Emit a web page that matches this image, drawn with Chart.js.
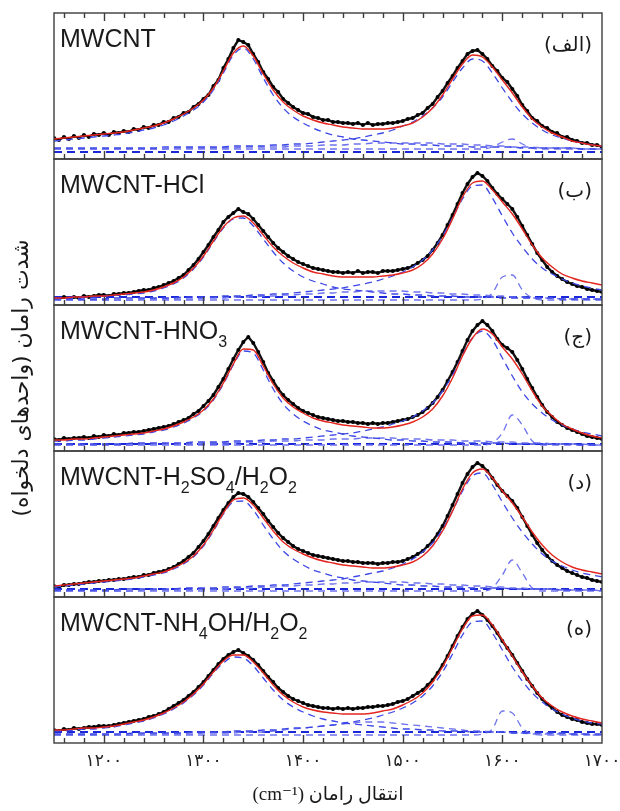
<!DOCTYPE html>
<html>
<head>
<meta charset="utf-8">
<script src="https://cdn.jsdelivr.net/npm/chart.js@4/dist/chart.umd.min.js"></script>
<style>
  body { margin: 0; background: #fff; }
  #raman { display: block; }
</style>
</head>
<body>
<canvas id="raman" width="620" height="811"></canvas>
<script>
// Raman shift grid (cm-1) for fitted curves / components
const shifts = [
  1150,1160,1170,1180,1190,1200,1210,1220,1230,1240,
  1250,1260,1270,1280,1290,1300,1310,1320,1330,1340,
  1350,1360,1370,1380,1390,1400,1410,1420,1430,1440,
  1450,1460,1470,1480,1490,1500,1510,1520,1530,1540,
  1550,1560,1570,1580,1590,1600,1610,1620,1630,1640,
  1650,1660,1670,1680,1690,1700
];
// grid for the measured points
const dotShifts = [
  1150,1155,1160,1165,1170,1175,1180,1185,1190,1195,
  1200,1205,1210,1215,1220,1225,1230,1235,1240,1245,
  1250,1255,1260,1265,1270,1275,1280,1285,1290,1295,
  1300,1305,1310,1315,1320,1325,1330,1335,1340,1345,
  1350,1355,1360,1365,1370,1375,1380,1385,1390,1395,
  1400,1405,1410,1415,1420,1425,1430,1435,1440,1445,
  1450,1455,1460,1465,1470,1475,1480,1485,1490,1495,
  1500,1505,1510,1515,1520,1525,1530,1535,1540,1545,
  1550,1555,1560,1565,1570,1575,1580,1585,1590,1595,
  1600,1605,1610,1615,1620,1625,1630,1635,1640,1645,
  1650,1655,1660,1665,1670,1675,1680,1685,1690,1695,
  1700
];
const baseShifts = [1150, 1700];
const xTicks = [1200, 1300, 1400, 1500, 1600, 1700];

const panelNames = ['MWCNT', 'MWCNT-HCl', 'MWCNT-HNO_3', 'MWCNT-H_2SO_4/H_2O_2', 'MWCNT-NH_4OH/H_2O_2'];
const panelTags = ['(الف)', '(ب)', '(ج)', '(د)', '(ه)'];
const yTitle = 'شدت رامان (واحدهای دلخواه)';
const xTitle = 'انتقال رامان (cm⁻¹)';

// ---- (الف) MWCNT ----
const mwcntDots = [
  21,19,22,20,23,21,24,22,25,24,
  26,24,27,26,28,27,30,29,32,31,
  34,34,37,37,41,42,46,47,52,55,
  60,64,73,79,91,100,111,119,117,114,
  105,97,87,80,72,67,60,56,52,49,
  46,45,42,41,39,39,37,37,36,36,
  35,36,34,36,34,35,35,36,36,37,
  38,40,41,44,46,51,55,62,68,76,
  83,91,98,105,108,109,105,100,93,88,
  81,77,70,63,54,48,41,38,33,31,
  27,26,22,22,19,18,16,16,14,14,
  12
];
const mwcntFit = [
  20,21,22,23,24,25,26,27,29,31,
  33,36,40,45,51,59,71,88,106,113,
  103,85,69,57,49,43,39,36,34,32,
  31,30,30,30,31,33,36,42,51,64,
  80,95,104,102,92,79,66,52,40,32,
  26,22,18,16,14,13
];
const mwcntD = [
  18,19,20,21,22,23,24,25,27,29,
  31,34,38,43,49,57,69,86,104,111,
  100,81,64,51,42,36,31,27,24,22,
  20,19,18,17,16,15,15,14,14,13,
  13,13,12,12,12,12,12,11,11,11,
  11,11,11,10,10,10
];
const mwcntG = [
  11,11,11,11,11,11,11,11,11,11,
  11,12,12,12,12,12,12,12,13,13,
  13,13,14,14,15,15,16,17,18,19,
  20,22,24,26,29,33,37,43,51,62,
  77,91,100,98,86,71,57,45,36,29,
  24,21,18,16,14,13
];
const mwcntD2 = [
  10,10,10,10,10,10,10,10,10,10,
  10,10,10,10,10,10,10,10,10,10,
  10,10,10,10,10,10,10,10,10,10,
  10,10,10,10,10,10,10,10,10,10,
  10,10,10,10,12,17,20,15,11,10,
  10,10,10,10,10,10
];
const mwcntD3 = [
  10,10,10,10,10,10,10,10,10,10,
  10,10,11,11,11,11,11,11,11,12,
  12,12,12,12,13,13,13,14,14,14,
  15,15,16,16,16,16,16,16,16,15,
  15,15,14,14,13,13,12,12,12,11,
  11,11,11,10,10,10
];
const mwcntBase = [7, 7];

// ---- (ب) MWCNT-HCl ----
const hclDots = [
  7,6,8,7,8,7,9,8,9,10,
  10,9,11,11,12,12,13,14,15,15,
  17,18,20,22,24,27,30,35,40,46,
  53,60,68,75,83,88,92,96,93,91,
  86,80,74,68,62,57,53,49,46,43,
  41,39,37,36,35,34,33,33,32,33,
  32,34,32,33,33,32,34,34,34,35,
  36,37,39,42,45,49,55,62,70,80,
  90,101,112,121,128,132,129,124,117,111,
  106,101,96,88,79,70,61,52,45,38,
  33,29,26,23,21,19,18,16,15,14,
  13
];
const hclFit = [
  7,7,8,8,9,9,10,11,12,13,
  15,18,22,28,37,49,64,78,87,89,
  82,70,58,49,42,37,33,31,29,28,
  28,28,28,29,30,32,35,41,51,66,
  86,108,122,124,115,103,91,76,60,47,
  38,31,27,24,22,20
];
const hclD = [
  7,7,7,8,8,9,10,10,11,12,
  14,17,21,27,36,48,63,77,86,87,
  79,66,53,42,34,28,24,21,18,16,
  15,14,13,12,11,11,10,10,9,9,
  9,8,8,8,8,7,7,7,7,7,
  7,6,6,6,6,6
];
const hclG = [
  6,6,6,6,6,6,7,7,7,7,
  7,7,7,8,8,8,8,9,9,9,
  10,10,11,11,12,13,14,15,16,17,
  19,21,23,26,29,33,38,45,55,69,
  87,106,119,120,107,89,72,58,46,37,
  31,26,22,19,17,15
];
const hclD2 = [
  5,5,5,5,5,5,5,5,5,5,
  5,5,5,5,5,5,5,5,5,5,
  5,5,5,5,5,5,5,5,5,5,
  5,5,5,5,5,5,5,5,5,5,
  5,5,5,6,12,28,30,15,7,5,
  5,5,5,5,5,5
];
const hclD3 = [
  5,5,5,5,5,5,5,5,5,6,
  6,6,6,6,6,7,7,7,8,8,
  8,9,9,10,10,11,11,12,12,13,
  13,14,14,14,14,14,13,13,12,12,
  11,11,10,10,9,9,8,8,7,7,
  7,6,6,6,6,5
];
const hclBase = [8, 8];

// ---- (ج) MWCNT-HNO3 ----
const hno3Dots = [
  12,11,13,12,13,13,14,13,15,14,
  16,15,17,16,18,18,19,19,20,21,
  22,23,24,25,27,29,31,33,37,40,
  45,50,56,64,72,82,92,101,109,114,
  108,99,89,78,70,62,56,51,47,43,
  40,38,36,34,33,32,31,30,30,29,
  29,28,28,27,28,27,28,28,29,30,
  31,32,34,36,39,43,48,54,61,70,
  79,89,100,111,120,126,130,126,120,112,
  106,103,99,91,82,72,63,54,46,39,
  34,29,26,23,21,19,17,15,14,13,
  12
];
const hno3Fit = [
  11,11,12,12,13,14,15,16,17,18,
  20,22,25,29,34,41,52,68,87,102,
  101,85,67,53,44,38,33,30,28,26,
  25,24,23,23,24,26,29,34,42,55,
  73,95,113,122,117,104,92,77,60,45,
  35,27,22,18,15,13
];
const hno3D = [
  10,10,11,11,12,13,14,15,16,17,
  19,21,24,28,33,40,51,67,86,100,
  98,81,62,47,37,30,25,21,19,17,
  15,14,13,12,11,11,10,10,9,9,
  9,8,8,8,8,8,7,7,7,7,
  7,7,7,6,6,6
];
const hno3G = [
  7,7,7,7,7,7,7,7,8,8,
  8,8,8,8,9,9,9,9,10,10,
  10,11,11,12,12,13,14,15,16,17,
  18,20,22,24,27,30,34,40,48,60,
  76,96,113,120,111,93,75,59,47,38,
  31,26,22,19,17,15
];
const hno3D2 = [
  6,6,6,6,6,6,6,6,6,6,
  6,6,6,6,6,6,6,6,6,6,
  6,6,6,6,6,6,6,6,6,6,
  6,6,6,6,6,6,6,6,6,6,
  6,6,6,6,8,18,36,26,10,6,
  6,6,6,6,6,6
];
const hno3D3 = [
  6,6,6,6,6,6,6,6,6,7,
  7,7,7,7,7,8,8,8,8,9,
  9,9,10,10,10,11,11,11,12,12,
  12,13,13,13,13,12,12,12,11,11,
  11,10,10,10,9,9,9,8,8,8,
  7,7,7,7,6,6
];
const hno3Base = [7, 7];

// ---- (د) MWCNT-H2SO4/H2O2 ----
const h2so4Dots = [
  11,10,12,12,13,13,14,15,15,16,
  16,17,17,18,18,19,20,20,22,22,
  24,25,26,28,30,33,36,40,44,50,
  56,63,71,79,87,94,100,104,103,100,
  95,89,83,76,70,64,59,55,51,48,
  46,44,42,41,40,39,38,37,36,36,
  35,35,34,34,34,33,34,34,35,35,
  36,38,40,43,46,51,56,63,71,81,
  92,103,114,123,130,134,131,126,119,112,
  106,101,96,89,80,71,62,54,47,41,
  36,32,29,26,24,22,20,19,17,16,
  15
];
const h2so4Fit = [
  11,12,13,14,15,16,17,18,19,21,
  23,25,29,34,41,52,67,84,97,99,
  92,79,66,55,48,43,39,36,34,32,
  31,30,29,29,30,32,35,41,51,66,
  86,108,124,128,119,106,94,80,65,52,
  42,35,30,27,25,23
];
const h2so4D = [
  10,11,12,13,14,15,16,17,18,20,
  22,24,28,33,40,51,66,83,95,96,
  87,72,58,46,38,32,27,24,21,19,
  17,16,15,14,13,12,12,11,11,10,
  10,10,9,9,9,9,8,8,8,8,
  8,7,7,7,7,7
];
const h2so4G = [
  7,7,7,7,7,7,7,8,8,8,
  8,8,8,9,9,9,9,10,10,10,
  11,11,12,12,13,14,15,16,17,18,
  20,22,24,26,29,33,38,45,54,68,
  86,106,121,124,112,95,79,65,53,43,
  36,31,27,24,22,20
];
const h2so4D2 = [
  6,6,6,6,6,6,6,6,6,6,
  6,6,6,6,6,6,6,6,6,6,
  6,6,6,6,6,6,6,6,6,6,
  6,6,6,6,6,6,6,6,6,6,
  6,6,6,6,9,22,37,24,9,6,
  6,6,6,6,6,6
];
const h2so4D3 = [
  6,6,6,6,6,6,6,6,6,7,
  7,7,7,7,7,8,8,8,9,9,
  9,10,10,11,11,12,12,13,13,14,
  14,15,15,15,15,15,14,14,13,13,
  12,12,11,11,10,10,9,9,8,8,
  8,7,7,7,7,6
];
const h2so4Base = [8, 8];

// ---- (ه) MWCNT-NH4OH/H2O2 ----
const nh4ohDots = [
  13,12,14,13,15,14,15,16,16,17,
  17,17,18,19,20,21,22,23,24,26,
  27,29,31,34,37,40,43,47,51,56,
  61,67,73,79,84,88,91,93,90,87,
  83,78,72,66,61,55,51,47,44,42,
  40,38,37,36,35,35,34,35,34,35,
  34,35,35,36,36,37,37,38,39,41,
  42,44,47,50,53,58,63,70,78,87,
  97,107,116,124,129,132,128,123,117,110,
  102,95,88,80,72,64,57,50,44,39,
  35,31,28,26,24,23,21,20,19,19,
  18
];
const nh4ohFit = [
  13,13,14,15,15,16,17,19,21,23,
  26,30,35,41,49,59,71,82,88,88,
  81,70,58,48,41,36,33,31,30,29,
  29,29,30,32,34,38,43,50,61,76,
  95,114,127,128,118,103,87,71,57,45,
  37,31,27,24,22,20
];
const nh4ohD = [
  12,12,13,14,14,15,16,18,20,22,
  25,29,34,40,48,58,70,80,86,85,
  77,65,53,43,36,31,27,24,22,20,
  19,18,17,16,15,14,14,13,13,12,
  12,12,11,11,11,11,10,10,10,10,
  10,10,9,9,9,9
];
const nh4ohG = [
  9,9,9,9,9,9,9,9,10,10,
  10,10,10,10,11,11,11,11,12,12,
  12,13,13,14,15,15,16,17,18,20,
  21,23,25,28,31,35,40,47,57,71,
  89,108,121,122,110,93,76,62,50,41,
  34,29,25,22,20,19
];
const nh4ohD2 = [
  8,8,8,8,8,8,8,8,8,8,
  8,8,8,8,8,8,8,8,8,8,
  8,8,8,8,8,8,8,8,8,8,
  8,8,8,8,8,8,8,8,8,8,
  8,8,8,9,14,32,30,15,9,8,
  8,8,8,8,8,8
];
const nh4ohD3 = [
  8,8,8,8,8,8,8,8,8,9,
  9,9,9,9,9,10,10,10,10,11,
  11,11,12,13,14,15,16,17,18,19,
  20,21,21,21,20,19,18,17,16,15,
  14,13,12,12,11,11,10,10,9,9,
  9,9,9,9,8,8
];
const nh4ohBase = [11, 11];

const panels = [
  { id: 'p1', dots: mwcntDots, fit: mwcntFit, comps: [mwcntD, mwcntG], small: [mwcntD2, mwcntD3], base: mwcntBase },
  { id: 'p2', dots: hclDots, fit: hclFit, comps: [hclD, hclG], small: [hclD2, hclD3], base: hclBase },
  { id: 'p3', dots: hno3Dots, fit: hno3Fit, comps: [hno3D, hno3G], small: [hno3D2, hno3D3], base: hno3Base },
  { id: 'p4', dots: h2so4Dots, fit: h2so4Fit, comps: [h2so4D, h2so4G], small: [h2so4D2, h2so4D3], base: h2so4Base },
  { id: 'p5', dots: nh4ohDots, fit: nh4ohFit, comps: [nh4ohD, nh4ohG], small: [nh4ohD2, nh4ohD3], base: nh4ohBase }
];

const pts = (xs, ys) => xs.map((x, i) => ({ x: x, y: ys[i] }));
const faDigits = '۰۱۲۳۴۵۶۷۸۹';
const toFa = n => String(n).replace(/\d/g, d => faDigits[d]);

const datasets = [];
panels.forEach(p => {
  datasets.push({
    data: pts(dotShifts, p.dots), yAxisID: p.id, order: 3,
    borderColor: '#111', borderWidth: 2.4, pointRadius: 2,
    pointBackgroundColor: '#000', pointBorderWidth: 0
  });
  p.comps.forEach(c => datasets.push({
    data: pts(shifts, c), yAxisID: p.id, order: 2,
    borderColor: '#3d47e6', borderWidth: 1.3, borderDash: [7, 5],
    pointRadius: 0, cubicInterpolationMode: 'monotone'
  }));
  p.small.forEach(c => datasets.push({
    data: pts(shifts, c), yAxisID: p.id, order: 2,
    borderColor: '#6f74ee', borderWidth: 1.3, borderDash: [7, 5],
    pointRadius: 0, cubicInterpolationMode: 'monotone'
  }));
  datasets.push({
    data: pts(baseShifts, p.base), yAxisID: p.id, order: 2,
    borderColor: '#1a28d8', borderWidth: 1.8, borderDash: [8, 5], pointRadius: 0
  });
  datasets.push({
    data: pts(shifts, p.fit), yAxisID: p.id, order: 1,
    borderColor: '#e3261f', borderWidth: 1.4, pointRadius: 0,
    cubicInterpolationMode: 'monotone'
  });
});

const panelScale = () => ({
  type: 'linear', position: 'left', stack: 'panels', stackWeight: 1,
  min: 0, max: 146,
  ticks: { display: false }, grid: { display: false }, border: { display: false },
  afterFit(s) { s.width = 0; }
});

// draw the frames, inward ticks and the texts
const decor = {
  id: 'decor',
  afterDatasetsDraw(chart) {
    const ctx = chart.ctx;
    const x = chart.scales.x;
    ctx.save();
    ctx.strokeStyle = '#3c3c3c';
    ctx.fillStyle = '#1a1a1a';
    ctx.lineWidth = 1.4;
    panels.forEach((p, i) => {
      const y = chart.scales[p.id];
      ctx.strokeRect(x.left, y.top, x.right - x.left, y.bottom - y.top);
      for (let v = 1160; v < 1700; v += 20) {
        const px = Math.round(x.getPixelForValue(v)) + 0.5;
        const len = v % 100 === 0 ? 8 : 5;
        ctx.beginPath();
        ctx.moveTo(px, y.bottom);
        ctx.lineTo(px, y.bottom - len);
        if (i === 0) {
          ctx.moveTo(px, y.top);
          ctx.lineTo(px, y.top + len);
        }
        ctx.stroke();
      }
      // sample name with subscripts
      let tx = x.left + 6;
      const ty = y.top + 34;
      ctx.textAlign = 'left';
      ctx.textBaseline = 'alphabetic';
      panelNames[i].split(/(_\d)/).forEach(seg => {
        if (!seg) return;
        if (seg[0] === '_') {
          ctx.font = '16px "Liberation Sans"';
          ctx.fillText(seg[1], tx, ty + 8);
          tx += ctx.measureText(seg[1]).width;
        } else {
          ctx.font = '25px "Liberation Sans"';
          ctx.fillText(seg, tx, ty);
          tx += ctx.measureText(seg).width;
        }
      });
      ctx.font = '20px "DejaVu Sans"';
      ctx.textAlign = 'right';
      ctx.textBaseline = 'middle';
      ctx.fillText(panelTags[i], x.right - 10, y.top + 33);
    });
    // axis titles
    ctx.direction = 'rtl';
    ctx.textAlign = 'center';
    ctx.textBaseline = 'middle';
    ctx.font = '22px "DejaVu Sans"';
    const top = chart.scales.p1.top, bottom = chart.scales.p5.bottom;
    ctx.save();
    ctx.translate(22, (top + bottom) / 2);
    ctx.rotate(-Math.PI / 2);
    ctx.fillText(yTitle, 0, 0);
    ctx.restore();
    ctx.font = '19px "Liberation Serif", "DejaVu Sans"';
    ctx.fillText(xTitle, (x.left + x.right) / 2, 795);
    ctx.restore();
  }
};

new Chart(document.getElementById('raman'), {
  type: 'line',
  data: { datasets: datasets },
  plugins: [decor],
  options: {
    responsive: false,
    animation: false,
    devicePixelRatio: 1,
    layout: { padding: { left: 54, right: 18, top: 13, bottom: 0 } },
    plugins: { legend: { display: false }, tooltip: { enabled: false } },
    scales: {
      x: {
        type: 'linear', position: 'bottom', min: 1150, max: 1700,
        grid: { display: false, drawTicks: false }, border: { display: false },
        afterBuildTicks(s) { s.ticks = xTicks.map(v => ({ value: v })); },
        afterFit(s) { s.height = 68; s.paddingLeft = 0; s.paddingRight = 0; },
        ticks: {
          autoSkip: false, maxRotation: 0, padding: 8, color: '#222',
          font: { family: 'DejaVu Sans', size: 17 },
          callback: v => toFa(v)
        }
      },
      p5: panelScale(),
      p4: panelScale(),
      p3: panelScale(),
      p2: panelScale(),
      p1: panelScale()
    }
  }
});
</script>
</body>
</html>
